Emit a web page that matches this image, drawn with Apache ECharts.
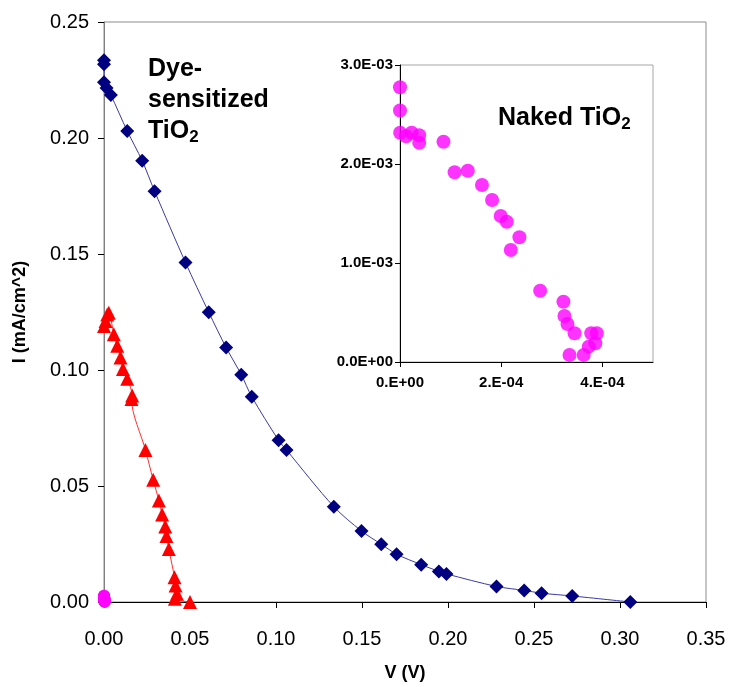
<!DOCTYPE html>
<html>
<head>
<meta charset="utf-8">
<script src="https://cdn.jsdelivr.net/npm/echarts@6/dist/echarts.min.js"></script>
<style>
  html, body { margin: 0; padding: 0; background: #fff; }
  #chart { width: 730px; height: 687px; }
</style>
</head>
<body>
<div id="chart"></div>
<script>
// I-V curves: dye-sensitized vs naked TiO2
const dyeV = [0, 0, 0, 0.0015, 0.0040, 0.0135, 0.0222, 0.0294, 0.0474, 0.0609, 0.0710, 0.0798, 0.0859, 0.1015, 0.1061, 0.1336, 0.1497, 0.1612, 0.1701, 0.1844, 0.1947, 0.1991, 0.2282, 0.2443, 0.2544, 0.2722, 0.3060];
const dyeI = [0.2335, 0.2318, 0.2240, 0.2215, 0.2185, 0.2030, 0.1902, 0.1771, 0.1463, 0.1249, 0.1097, 0.0980, 0.0885, 0.0697, 0.0655, 0.0411, 0.0306, 0.0249, 0.0206, 0.0161, 0.0132, 0.0121, 0.0067, 0.0050, 0.0038, 0.0026, 0.0000];

const redV = [0, 0.0009, 0.0019, 0.0028, 0.0057, 0.0077, 0.0096, 0.0110, 0.0135, 0.0164, 0.0160, 0.0241, 0.0286, 0.0319, 0.0338, 0.0356, 0.0363, 0.0377, 0.0410, 0.0416, 0.0424, 0.0412, 0.0500];
const redI = [0.1190, 0.1211, 0.1239, 0.1247, 0.1154, 0.1104, 0.1054, 0.1004, 0.0962, 0.0890, 0.0875, 0.0655, 0.0527, 0.0437, 0.0377, 0.0325, 0.0285, 0.0228, 0.0107, 0.0071, 0.0036, 0.0014, 0.0000];

const nakedV = [0, 0, 0.03e-5, 1.2e-5, 2.3e-5, 3.8e-5, 3.8e-5, 8.6e-5, 10.8e-5, 13.4e-5, 16.2e-5, 18.2e-5, 19.9e-5, 21.1e-5, 23.6e-5, 21.9e-5, 27.7e-5, 32.3e-5, 32.5e-5, 33.1e-5, 34.5e-5, 33.5e-5, 36.3e-5, 37.3e-5, 37.8e-5, 38.9e-5, 38.6e-5];
const nakedI = [2.775e-3, 2.54e-3, 2.316e-3, 2.28e-3, 2.316e-3, 2.29e-3, 2.215e-3, 2.225e-3, 1.916e-3, 1.932e-3, 1.788e-3, 1.636e-3, 1.475e-3, 1.417e-3, 1.26e-3, 1.131e-3, 0.72e-3, 0.609e-3, 0.465e-3, 0.384e-3, 0.29e-3, 0.07e-3, 0.07e-3, 0.155e-3, 0.29e-3, 0.29e-3, 0.19e-3];

const pairs = (xs, ys) => xs.map((x, i) => [x, ys[i]]);

// Excel-like scientific labels, e.g. 2.E-04 / 3.0E-03
function sci(value, digits) {
  if (value === 0) return digits ? '0.' + '0'.repeat(digits) + 'E+00' : '0.E+00';
  const exp = Math.floor(Math.log10(Math.abs(value)) + 1e-9);
  const mant = value / Math.pow(10, exp);
  const m = digits ? mant.toFixed(digits) : Math.round(mant) + '.';
  const e = (exp < 0 ? '-' : '+') + String(Math.abs(exp)).padStart(2, '0');
  return m + 'E' + e;
}

const font = 'Liberation Sans, Arial, sans-serif';

const option = {
  animation: false,
  backgroundColor: '#ffffff',
  textStyle: { fontFamily: font },
  grid: [
    {
      left: 104, right: 24, top: 22, bottom: 82,
      show: true, borderColor: '#8c8c8c', borderWidth: 1
    },
    {
      left: 400, right: 77, top: 65, bottom: 325,
      show: true, backgroundColor: '#ffffff', borderColor: '#a6a6a6', borderWidth: 1
    }
  ],
  xAxis: [
    {
      gridIndex: 0, type: 'value', min: 0, max: 0.35, interval: 0.05,
      name: 'V (V)', nameLocation: 'middle', nameGap: 62,
      nameTextStyle: { fontSize: 18, fontWeight: 'bold', color: '#000', fontFamily: font },
      axisLine: { lineStyle: { color: '#000', width: 1 } },
      axisTick: { show: true, inside: false, length: 6, lineStyle: { color: '#000' } },
      axisLabel: { fontSize: 20, color: '#000', margin: 27, fontFamily: font, formatter: v => v.toFixed(2) },
      splitLine: { show: false }
    },
    {
      gridIndex: 1, type: 'value', min: 0, max: 5e-4, interval: 2e-4,
      axisLine: { lineStyle: { color: '#000', width: 1 } },
      axisTick: { show: true, length: 5, lineStyle: { color: '#000' } },
      axisLabel: {
        fontSize: 15, fontWeight: 'bold', color: '#000', margin: 13, fontFamily: font,
        showMaxLabel: false,
        formatter: v => (v > 4.5e-4 ? '' : sci(v, 0))
      },
      splitLine: { show: false }
    }
  ],
  yAxis: [
    {
      gridIndex: 0, type: 'value', min: 0, max: 0.25, interval: 0.05,
      name: 'I (mA/cm^2)', nameLocation: 'middle', nameGap: 75, nameRotate: 90,
      nameTextStyle: { fontSize: 18, fontWeight: 'bold', color: '#000', fontFamily: font },
      axisLine: { show: true, lineStyle: { color: '#808080', width: 1 } },
      axisTick: { show: true, length: 6, lineStyle: { color: '#000' } },
      axisLabel: { fontSize: 20, color: '#000', margin: 15, fontFamily: font, formatter: v => v.toFixed(2) },
      splitLine: { show: false }
    },
    {
      gridIndex: 1, type: 'value', min: 0, max: 3e-3, interval: 1e-3,
      axisLine: { show: true, lineStyle: { color: '#000', width: 1 } },
      axisTick: { show: true, length: 5, lineStyle: { color: '#000' } },
      axisLabel: { fontSize: 15, fontWeight: 'bold', color: '#000', margin: 7, fontFamily: font, formatter: v => sci(v, 1) },
      splitLine: { show: false }
    }
  ],
  series: [
    {
      name: 'Dye-sensitized TiO2', type: 'line', xAxisIndex: 0, yAxisIndex: 0,
      data: pairs(dyeV, dyeI), smooth: 0.3,
      symbol: 'diamond', symbolSize: 14,
      itemStyle: { color: '#000080' },
      lineStyle: { color: '#3a3aa8', width: 1 }
    },
    {
      name: 'Red', type: 'line', xAxisIndex: 0, yAxisIndex: 0,
      data: pairs(redV, redI), smooth: 0.3,
      symbol: 'triangle', symbolSize: 14,
      itemStyle: { color: '#ff0000' },
      lineStyle: { color: '#ff3030', width: 1 }
    },
    {
      name: 'Naked TiO2', type: 'scatter', xAxisIndex: 0, yAxisIndex: 0,
      data: pairs(nakedV, nakedI),
      symbol: 'circle', symbolSize: 12,
      itemStyle: { color: '#ff00ff' }
    },
    {
      name: 'Naked TiO2 inset', type: 'scatter', xAxisIndex: 1, yAxisIndex: 1,
      data: pairs(nakedV, nakedI),
      symbol: 'circle', symbolSize: 14,
      itemStyle: { color: '#ff00ff' }
    }
  ],
  graphic: [
    {
      type: 'text', left: 148, top: 57,
      style: {
        text: '{t|Dye-}\n{t|sensitized}\n{t|TiO}{s|2}',
        rich: {
          t: { fontSize: 25, fontWeight: 'bold', fill: '#000', fontFamily: font, lineHeight: 31 },
          s: { fontSize: 17, fontWeight: 'bold', fill: '#000', fontFamily: font, lineHeight: 31, padding: [12, 0, 0, 0] }
        }
      }
    },
    {
      type: 'text', left: 498, top: 104,
      style: {
        text: '{t|Naked TiO}{s|2}',
        rich: {
          t: { fontSize: 25, fontWeight: 'bold', fill: '#000', fontFamily: font, lineHeight: 30 },
          s: { fontSize: 17, fontWeight: 'bold', fill: '#000', fontFamily: font, lineHeight: 30, padding: [12, 0, 0, 0] }
        }
      }
    }
  ]
};

const chart = echarts.init(document.getElementById('chart'));
chart.setOption(option);
window.addEventListener('resize', () => chart.resize());
</script>
</body>
</html>
